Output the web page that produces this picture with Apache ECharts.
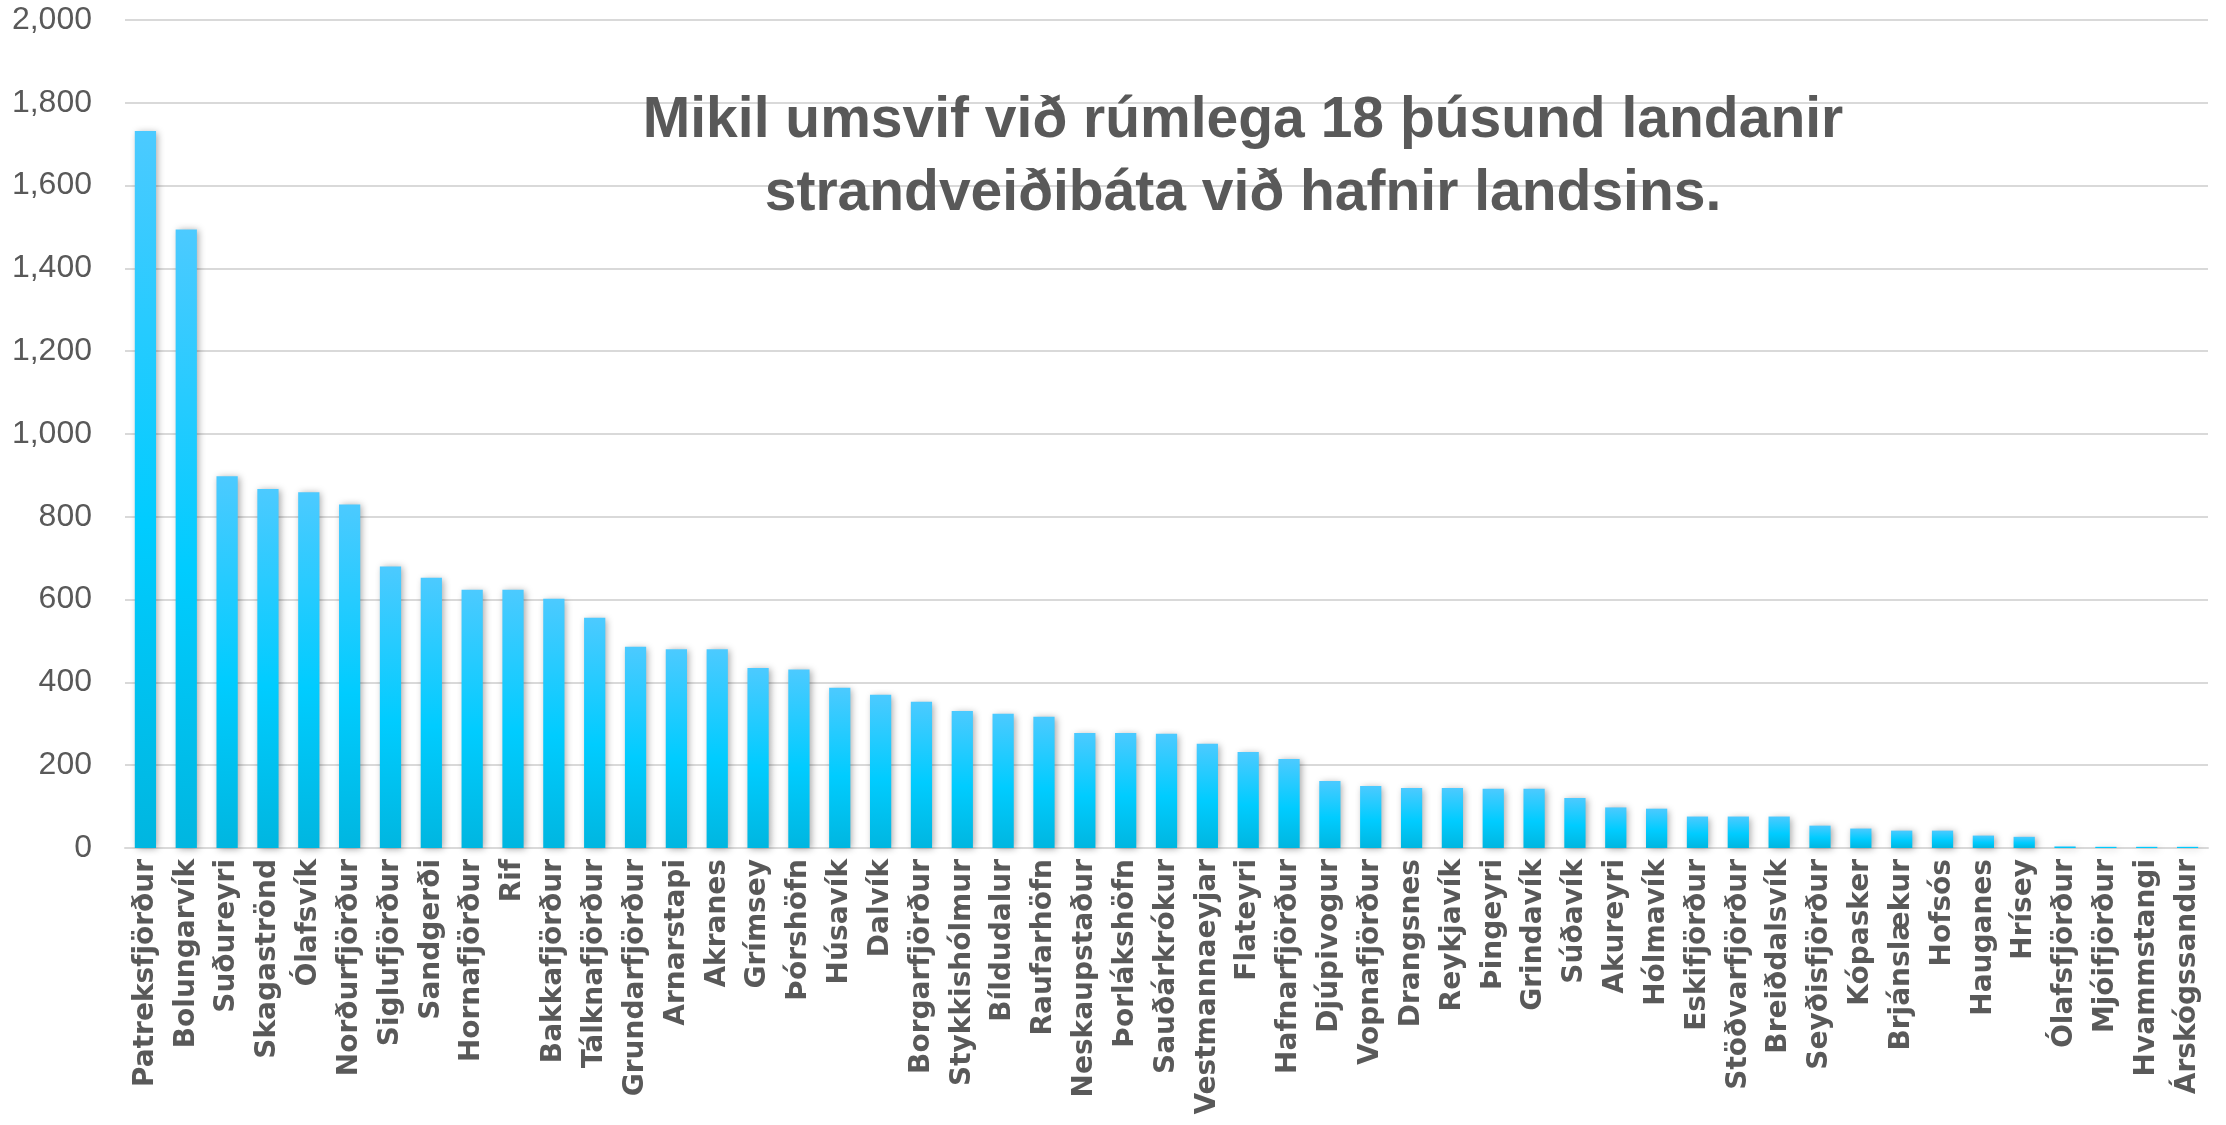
<!DOCTYPE html>
<html>
<head>
<meta charset="utf-8">
<script src="https://cdn.jsdelivr.net/npm/echarts@6/dist/echarts.min.js"></script>
<style>
  html, body { margin: 0; padding: 0; background: #fff; }
  #chart { width: 2226px; height: 1125px; }
</style>
</head>
<body>
<div id="chart"></div>
<script>
// hafnir, í röð eftir fjölda landana
var hafnir = ['Patreksfjörður', 'Bolungarvík', 'Suðureyri', 'Skagaströnd', 'Ólafsvík', 'Norðurfjörður',
  'Siglufjörður', 'Sandgerði', 'Hornafjörður', 'Rif', 'Bakkafjörður', 'Tálknafjörður', 'Grundarfjörður',
  'Arnarstapi', 'Akranes', 'Grímsey', 'Þórshöfn', 'Húsavík', 'Dalvík', 'Borgarfjörður', 'Stykkishólmur',
  'Bíldudalur', 'Raufarhöfn', 'Neskaupstaður', 'Þorlákshöfn', 'Sauðárkrókur', 'Vestmannaeyjar', 'Flateyri',
  'Hafnarfjörður', 'Djúpivogur', 'Vopnafjörður', 'Drangsnes', 'Reykjavík', 'Þingeyri', 'Grindavík',
  'Súðavík', 'Akureyri', 'Hólmavík', 'Eskifjörður', 'Stöðvarfjörður', 'Breiðdalsvík', 'Seyðisfjörður',
  'Kópasker', 'Brjánslækur', 'Hofsós', 'Hauganes', 'Hrísey', 'Ólafsfjörður', 'Mjóifjörður',
  'Hvammstangi', 'Árskógssandur'];

var landanir = [1732, 1494, 898, 867, 859, 830,
  680, 653, 624, 624, 602, 556, 486,
  480, 480, 435, 431, 387, 370, 353, 331,
  324, 317, 278, 278, 276, 252, 232,
  215, 162, 150, 145, 145, 143, 143,
  121, 98, 95, 76, 76, 76, 54,
  47, 42, 42, 30, 27, 4, 3,
  3, 3];

var yTicks = { min: 0, max: 2000, interval: 200 };
var titill = 'Mikil umsvif við rúmlega 18 þúsund landanir\nstrandveiðibáta við hafnir landsins.';

var chart = echarts.init(document.getElementById('chart'));

var option = {
  backgroundColor: '#ffffff',
  animation: false,
  title: {
    text: titill,
    left: 1238,
    top: 80,
    textAlign: 'center',
    textStyle: {
      fontFamily: "'Liberation Sans Narrow', 'Liberation Sans', sans-serif",
      fontSize: 57,
      fontWeight: 'bold',
      color: '#595959',
      lineHeight: 73
    }
  },
  grid: {
    left: 125,
    right: 18,
    top: 20,
    bottom: 277,
    containLabel: false
  },
  xAxis: {
    type: 'category',
    data: hafnir,
    axisLine: { show: true, lineStyle: { color: '#d9d9d9', width: 2 } },
    axisTick: { show: false },
    axisLabel: {
      interval: 0,
      rotate: 90,
      margin: 11,
      fontFamily: "'DejaVu Sans', sans-serif",
      fontWeight: 'bold',
      fontSize: 28,
      color: '#595959'
    }
  },
  yAxis: {
    type: 'value',
    min: yTicks.min,
    max: yTicks.max,
    interval: yTicks.interval,
    axisLine: { show: false },
    axisTick: { show: false },
    axisLabel: {
      margin: 33,
      fontFamily: "'Liberation Sans Narrow', 'Liberation Sans', sans-serif",
      fontSize: 32,
      color: '#595959',
      formatter: function (v) { return v.toLocaleString('en-US'); }
    },
    splitLine: { lineStyle: { color: '#d9d9d9', width: 2 } }
  },
  series: [{
    type: 'bar',
    data: landanir,
    barCategoryGap: '48%',
    itemStyle: {
      color: new echarts.graphic.LinearGradient(0, 0, 0, 1, [
        { offset: 0, color: '#4ccaff' },
        { offset: 0.55, color: '#00ccff' },
        { offset: 1, color: '#00b6e0' }
      ]),
      shadowBlur: 7,
      shadowColor: 'rgba(0, 0, 0, 0.35)',
      shadowOffsetX: 2,
      shadowOffsetY: 1
    }
  }]
};

chart.setOption(option);
</script>
</body>
</html>
